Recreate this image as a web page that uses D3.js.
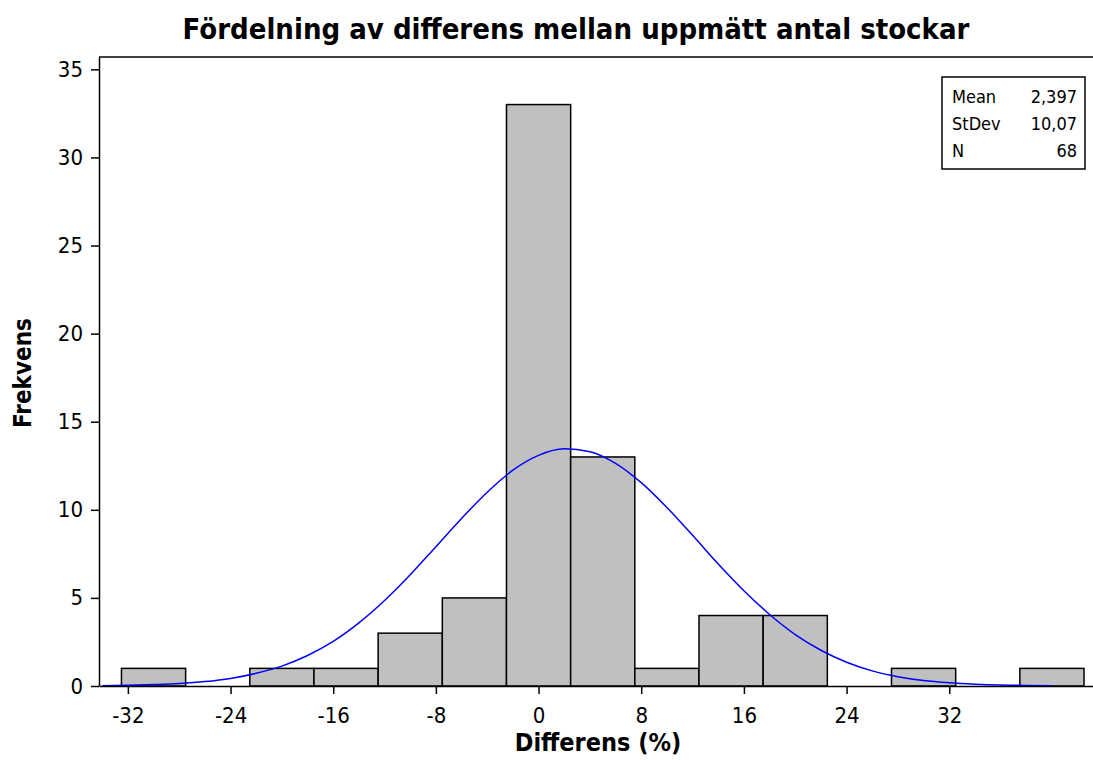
<!DOCTYPE html>
<html>
<head>
<meta charset="utf-8">
<script src="https://cdn.jsdelivr.net/npm/d3@7"></script>
<style>
  body { margin: 0; background: #fff; }
  svg { font-family: "DejaVu Sans Condensed", "DejaVu Sans", sans-serif; }
</style>
</head>
<body>
<div id="chart"></div>
<script>
// histogram bins (centre of each 5-unit bin) and counts
var binCenters = [-30, -25, -20, -15, -10, -5, 0, 5, 10, 15, 20, 25, 30, 35, 40];
var counts = [1, 0, 1, 1, 3, 5, 33, 13, 1, 4, 4, 0, 1, 0, 1];
var binWidth = 5;

// fitted normal curve
var curveX = [-34, -32, -30, -28, -26, -24, -22, -20, -18, -16, -14, -12, -10, -8, -6, -4, -2, 0, 2, 4,
  6, 8, 10, 12, 14, 16, 18, 20, 22, 24, 26, 28, 30, 32, 34, 36, 38, 40];
var curveY = [0.02, 0.04, 0.08, 0.14, 0.25, 0.43, 0.72, 1.13, 1.73, 2.53, 3.58, 4.85, 6.31, 7.91, 9.51, 11.0, 12.25, 13.09, 13.46, 13.30,
  12.64, 11.54, 10.13, 8.55, 6.93, 5.41, 4.06, 2.92, 2.03, 1.35, 0.86, 0.53, 0.31, 0.18, 0.10, 0.05, 0.03, 0.01];

var xTicks = [-32, -24, -16, -8, 0, 8, 16, 24, 32];
var yTicks = [0, 5, 10, 15, 20, 25, 30, 35];

var statLabels = ["Mean", "StDev", "N"];
var statValues = ["2,397", "10,07", "68"];

var svgWidth = 1093;
var svgHeight = 760;
var margin = { top: 57, right: 0, bottom: 74, left: 99 };
var width = svgWidth - margin.left - margin.right;
var height = svgHeight - margin.top - margin.bottom;

var svg = d3.select("#chart")
  .append("svg")
  .attr("width", svgWidth)
  .attr("height", svgHeight);

var chartGroup = svg.append("g")
  .attr("transform", `translate(${margin.left}, ${margin.top})`);

var xScale = d3.scaleLinear()
  .domain([-34.25, 43.2])
  .range([0, width]);

var yScale = d3.scaleLinear()
  .domain([0, 35.7])
  .range([height, 0]);

// frame top line
chartGroup.append("line")
  .attr("x1", 0).attr("x2", width)
  .attr("y1", 0).attr("y2", 0)
  .attr("stroke", "#000").attr("stroke-width", 1.5);

// bars
chartGroup.selectAll(".bar")
  .data(binCenters.map((c, i) => ({ c: c, n: counts[i] })).filter(d => d.n > 0))
  .enter()
  .append("rect")
  .attr("class", "bar")
  .attr("x", d => xScale(d.c - binWidth / 2))
  .attr("width", d => xScale(d.c + binWidth / 2) - xScale(d.c - binWidth / 2))
  .attr("y", d => yScale(d.n))
  .attr("height", d => yScale(0) - yScale(d.n))
  .attr("fill", "#c0c0c0")
  .attr("stroke", "#000")
  .attr("stroke-width", 1.5);

// normal curve
var line = d3.line()
  .x(d => xScale(d[0]))
  .y(d => yScale(d[1]))
  .curve(d3.curveMonotoneX);

chartGroup.append("path")
  .datum(curveX.map((x, i) => [x, curveY[i]]))
  .attr("d", line)
  .attr("fill", "none")
  .attr("stroke", "#0000ff")
  .attr("stroke-width", 1.5);

// axes (plain hyphen for negatives, as in the original)
var bottomAxis = d3.axisBottom(xScale)
  .tickValues(xTicks)
  .tickFormat(d => String(d))
  .tickSizeInner(8)
  .tickSizeOuter(0)
  .tickPadding(13);

var leftAxis = d3.axisLeft(yScale)
  .tickValues(yTicks)
  .tickFormat(d => String(d))
  .tickSizeInner(8)
  .tickSizeOuter(0)
  .tickPadding(8);

var xAxisG = chartGroup.append("g")
  .attr("transform", `translate(0, ${height})`)
  .call(bottomAxis);

var yAxisG = chartGroup.append("g")
  .call(leftAxis);

[xAxisG, yAxisG].forEach(function(g) {
  g.selectAll("path, line").attr("stroke", "#000").attr("stroke-width", 1.5);
  g.selectAll("text")
    .attr("fill", "#000")
    .style("font-size", "22px")
    .style("font-family", "\"DejaVu Sans Condensed\", \"DejaVu Sans\", sans-serif");
});

// stats box
var box = svg.append("g")
  .attr("transform", "translate(942, 77)");

box.append("rect")
  .attr("width", 143)
  .attr("height", 92)
  .attr("fill", "#fff")
  .attr("stroke", "#000")
  .attr("stroke-width", 1.5);

statLabels.forEach(function(label, i) {
  box.append("text")
    .attr("x", 10)
    .attr("y", 26 + i * 27)
    .style("font-size", "18px")
    .text(label);
  box.append("text")
    .attr("x", 135)
    .attr("y", 26 + i * 27)
    .attr("text-anchor", "end")
    .style("font-size", "18px")
    .text(statValues[i]);
});

// title and axis labels
svg.append("text")
  .attr("x", 576)
  .attr("y", 39)
  .attr("text-anchor", "middle")
  .style("font-size", "29px")
  .style("font-weight", "bold")
  .text("Fördelning av differens mellan uppmätt antal stockar");

svg.append("text")
  .attr("x", 598)
  .attr("y", 751)
  .attr("text-anchor", "middle")
  .style("font-size", "25px")
  .style("font-weight", "bold")
  .text("Differens (%)");

svg.append("text")
  .attr("transform", "translate(31, 373) rotate(-90)")
  .attr("text-anchor", "middle")
  .style("font-size", "24px")
  .style("font-weight", "bold")
  .text("Frekvens");
</script>
</body>
</html>
